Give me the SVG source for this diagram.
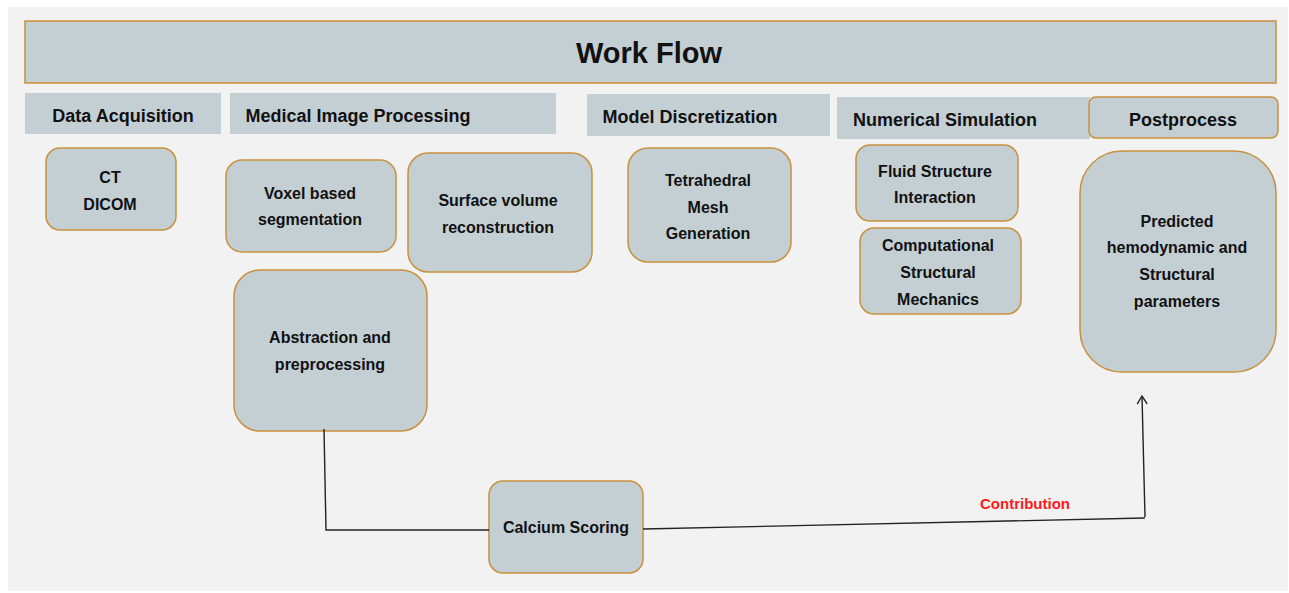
<svg xmlns="http://www.w3.org/2000/svg" width="1289" height="593" viewBox="0 0 1289 593">
<defs>
<style>
.bg{fill:#f2f2f2}
.hdr{fill:#c4cfd4}
.box{fill:#c4cfd4;stroke:#c9913d;stroke-width:1.5}
.t{font-family:"Liberation Sans",Arial,sans-serif;font-weight:bold;fill:#111;text-anchor:middle}
.h{font-size:18px}
.n{font-size:16px}
.conn{fill:none;stroke:#222;stroke-width:1.4}
</style>
<marker id="arr" viewBox="0 0 12 12" refX="10" refY="6" markerWidth="12" markerHeight="12" markerUnits="userSpaceOnUse" orient="auto">
<path d="M2,1 L10,6 L2,11" fill="none" stroke="#222" stroke-width="1.4"/>
</marker>
</defs>
<rect x="0" y="0" width="1289" height="593" fill="#ffffff"/>
<rect class="bg" x="8" y="7" width="1280" height="584"/>

<g id="title">
<rect class="box" x="25" y="21" width="1251" height="62"/>
<text class="t" x="649" y="63" font-size="29">Work Flow</text>
</g>

<g id="hdr-data">
<rect class="hdr" x="25" y="93" width="196" height="41"/>
<text class="t h" x="123" y="122">Data Acquisition</text>
</g>
<g id="hdr-medical">
<rect class="hdr" x="230" y="93" width="326" height="41"/>
<text class="t h" x="358" y="122">Medical Image Processing</text>
</g>
<g id="hdr-model">
<rect class="hdr" x="587" y="94" width="243" height="42"/>
<text class="t h" x="690" y="123">Model Discretization</text>
</g>
<g id="hdr-numerical">
<rect class="hdr" x="837" y="97" width="253" height="42"/>
<text class="t h" x="945" y="126">Numerical Simulation</text>
</g>
<g id="hdr-post">
<rect class="box" x="1089" y="97" width="189" height="41" rx="7"/>
<text class="t h" x="1183" y="126">Postprocess</text>
</g>

<g id="node-ct">
<rect class="box" x="46" y="148" width="130" height="82" rx="14"/>
<text class="t n" x="110" y="183">CT</text>
<text class="t n" x="110" y="210">DICOM</text>
</g>
<g id="node-voxel">
<rect class="box" x="226" y="160" width="170" height="92" rx="16"/>
<text class="t n" x="310" y="199">Voxel based</text>
<text class="t n" x="310" y="225">segmentation</text>
</g>
<g id="node-surface">
<rect class="box" x="408" y="153" width="184" height="119" rx="20"/>
<text class="t n" x="498" y="206">Surface volume</text>
<text class="t n" x="498" y="233">reconstruction</text>
</g>
<g id="node-abstraction">
<rect class="box" x="234" y="270" width="193" height="161" rx="26"/>
<text class="t n" x="330" y="343">Abstraction and</text>
<text class="t n" x="330" y="370">preprocessing</text>
</g>
<g id="node-tetra">
<rect class="box" x="628" y="148" width="163" height="114" rx="20"/>
<text class="t n" x="708" y="186">Tetrahedral</text>
<text class="t n" x="708" y="213">Mesh</text>
<text class="t n" x="708" y="239">Generation</text>
</g>
<g id="node-fsi">
<rect class="box" x="856" y="145" width="162" height="76" rx="14"/>
<text class="t n" x="935" y="177">Fluid Structure</text>
<text class="t n" x="935" y="203">Interaction</text>
</g>
<g id="node-csm">
<rect class="box" x="860" y="228" width="161" height="86" rx="14"/>
<text class="t n" x="938" y="251">Computational</text>
<text class="t n" x="938" y="278">Structural</text>
<text class="t n" x="938" y="305">Mechanics</text>
</g>
<g id="node-predicted">
<rect class="box" x="1080" y="151" width="196" height="221" rx="42"/>
<text class="t n" x="1177" y="227">Predicted</text>
<text class="t n" x="1177" y="253">hemodynamic and</text>
<text class="t n" x="1177" y="280">Structural</text>
<text class="t n" x="1177" y="307">parameters</text>
</g>
<g id="node-calcium">
<rect class="box" x="489" y="481" width="154" height="92" rx="14"/>
<text class="t n" x="566" y="533">Calcium Scoring</text>
</g>

<g id="connectors">
<polyline class="conn" points="324,429 326,530 489,530"/>
<polyline class="conn" points="643,529 1145,518"/>
<line class="conn" x1="1145" y1="517" x2="1142" y2="396" marker-end="url(#arr)"/>
<text x="1025" y="509" font-family="'Liberation Sans',Arial,sans-serif" font-weight="bold" font-size="15" fill="#ff1a1a" text-anchor="middle" textLength="90" lengthAdjust="spacingAndGlyphs">Contribution</text>
</g>
</svg>
